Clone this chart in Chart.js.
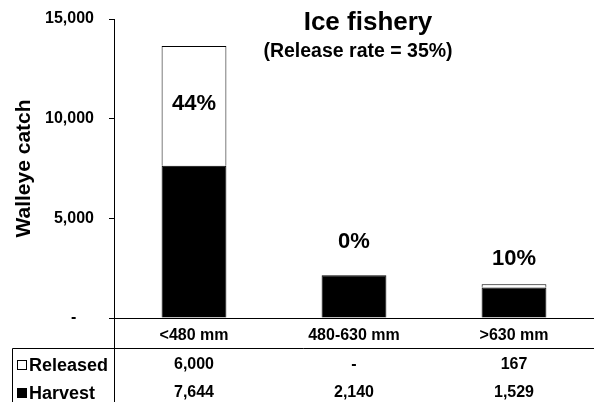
<!DOCTYPE html>
<html>
<head>
<meta charset="utf-8">
<script src="https://cdn.jsdelivr.net/npm/chart.js@4/dist/chart.umd.min.js"></script>
<style>
  html, body { margin: 0; padding: 0; background: #fff; }
  #wrap { width: 594px; height: 402px; }
</style>
</head>
<body>
<div id="wrap"><canvas id="c" width="594" height="402"></canvas></div>
<script>
// Walleye catch in the ice fishery by length class
const categories = ['<480 mm', '480-630 mm', '>630 mm'];
const released = [6000, 0, 167];
const harvest = [7644, 2140, 1529];
const yTicks = [0, 5000, 10000, 15000];
const seriesNames = ['Released', 'Harvest'];
const titleText = 'Ice fishery';
const subtitleText = '(Release rate = 35%)';
const yTitle = 'Walleye catch';

const FONT = "'Liberation Sans', Arial, Helvetica, sans-serif";
const fmt = v => (v === 0 ? '-' : v.toLocaleString('en-US'));

// vertical placement of each release-percentage label, relative to its bar top (px)
const pctOffsets = [58, -33, -25];

const overlay = {
  id: 'overlay',
  afterDraw(chart) {
    const { ctx, chartArea, scales: { x, y } } = chart;
    ctx.save();
    ctx.fillStyle = '#000';

    // heading
    ctx.textAlign = 'center';
    ctx.textBaseline = 'alphabetic';
    ctx.font = `bold 26px ${FONT}`;
    ctx.fillText(titleText, 368, 30);
    ctx.font = `bold 19.5px ${FONT}`;
    ctx.fillText(subtitleText, 358, 57);

    // share of the catch that was released
    ctx.font = `bold 22px ${FONT}`;
    ctx.textBaseline = 'middle';
    categories.forEach((c, i) => {
      const total = released[i] + harvest[i];
      const pct = Math.round(released[i] / total * 100);
      const top = y.getPixelForValue(total);
      ctx.fillText(pct + '%', x.getPixelForValue(i), top + pctOffsets[i]);
    });

    // data table grid
    const axisX = Math.round(chartArea.left - 0.5) + 0.5;
    const tableTop = 348.5;
    ctx.strokeStyle = '#000';
    ctx.lineWidth = 1;
    ctx.beginPath();
    ctx.moveTo(12.5, chart.height);
    ctx.lineTo(12.5, tableTop);
    ctx.lineTo(chart.width, tableTop);
    ctx.moveTo(axisX, chartArea.bottom);
    ctx.lineTo(axisX, chart.height);
    ctx.stroke();

    // row headers with legend keys
    const rows = [
      { name: seriesNames[0], values: released, fill: '#fff', rowY: 365 },
      { name: seriesNames[1], values: harvest, fill: '#000', rowY: 393 }
    ];
    rows.forEach(r => {
      ctx.fillStyle = r.fill;
      ctx.fillRect(17.5, r.rowY - 4.5, 9, 9);
      ctx.strokeRect(17.5, r.rowY - 4.5, 9, 9);
      ctx.fillStyle = '#000';
      ctx.textAlign = 'left';
      ctx.font = `bold 18px ${FONT}`;
      ctx.fillText(r.name, 29, r.rowY + 1);
      ctx.textAlign = 'center';
      ctx.font = `bold 16px ${FONT}`;
      r.values.forEach((v, i) => ctx.fillText(fmt(v), x.getPixelForValue(i), r.rowY));
    });
    ctx.restore();
  }
};

new Chart(document.getElementById('c'), {
  type: 'bar',
  data: {
    labels: categories,
    datasets: [
      {
        label: seriesNames[1],
        data: harvest,
        backgroundColor: '#000',
        borderColor: '#000',
        borderWidth: 1,
        barPercentage: 0.405,
        categoryPercentage: 1
      },
      {
        label: seriesNames[0],
        data: released,
        backgroundColor: '#fff',
        borderColor: '#000',
        borderWidth: 1,
        barPercentage: 0.405,
        categoryPercentage: 1
      }
    ]
  },
  options: {
    responsive: false,
    devicePixelRatio: 1,
    animation: false,
    layout: { padding: { left: 0, right: -3, top: 19, bottom: 54 } },
    plugins: {
      legend: { display: false },
      tooltip: { enabled: false },
      title: { display: false }
    },
    scales: {
      x: {
        stacked: true,
        grid: { display: false },
        border: { display: true, color: '#000', width: 1 },
        ticks: { color: '#000', padding: 0, font: { family: FONT, size: 16, weight: 'bold' } },
        afterFit(scale) { scale.height = 30; }
      },
      y: {
        stacked: true,
        min: 0,
        max: 15000,
        afterBuildTicks(scale) { scale.ticks = yTicks.map(v => ({ value: v })); },
        grid: { display: true, drawOnChartArea: false, drawTicks: true, tickLength: 5, color: '#000' },
        border: { display: true, color: '#000', width: 1 },
        ticks: {
          color: '#000',
          padding: 15,
          font: { family: FONT, size: 16, weight: 'bold' },
          callback: v => (v === 0 ? '-    ' : v.toLocaleString('en-US'))
        },
        title: {
          display: true,
          text: yTitle,
          color: '#000',
          padding: { top: 12, bottom: 0 },
          font: { family: FONT, size: 21, weight: 'bold' }
        },
        afterFit(scale) {
          scale.width = 114;
          // the label gap is horizontal only; keep it out of the vertical margins
          scale.paddingTop = 10;
          scale.paddingBottom = 10;
        }
      }
    }
  },
  plugins: [overlay]
});
</script>
</body>
</html>
